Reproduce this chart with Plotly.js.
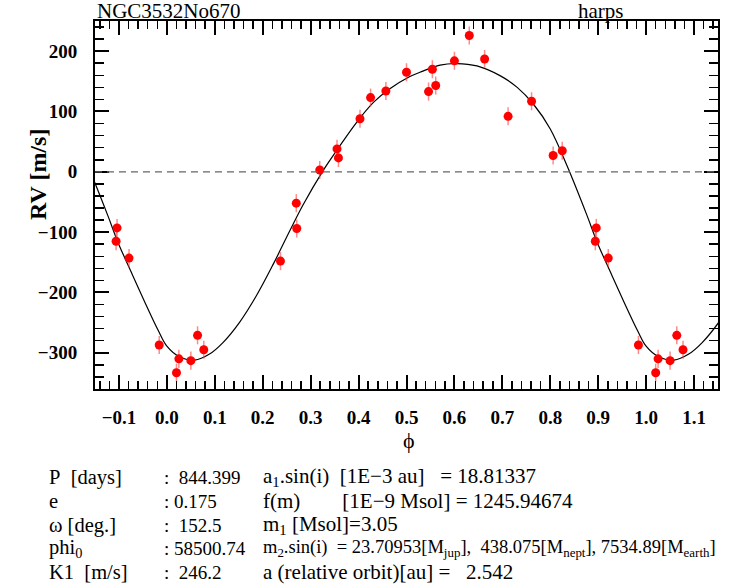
<!DOCTYPE html>
<html>
<head>
<meta charset="utf-8">
<script src="https://cdn.plot.ly/plotly-3.0.1.min.js"></script>
<style>
  html, body { margin: 0; padding: 0; background: #fff; }
  #rv-plot { width: 748px; height: 584px; }
</style>
</head>
<body>
<div id="rv-plot"></div>
<script>
// measured RV points, phase in [0,1)
var phase = [0.020, 0.025, 0.050, 0.064, 0.077, 0.237, 0.270, 0.271, 0.319, 0.355,
             0.358, 0.403, 0.425, 0.457, 0.500, 0.546, 0.554, 0.561, 0.600, 0.631,
             0.663, 0.712, 0.761, 0.806, 0.825, 0.894, 0.896, 0.921, 0.984];
var rv = [-333, -310, -313, -271, -295, -148, -52, -94, 3, 38,
          23, 88, 123, 134, 165, 133, 170, 143, 184, 226,
          187, 92, 117, 27, 35, -115, -93, -143, -287];
var rvErr = [15, 15, 15, 15, 15, 15, 15, 15, 15, 15,
             15, 15, 15, 15, 15, 15, 15, 15, 15, 15,
             15, 15, 15, 15, 15, 15, 15, 15, 15];

// orbit fit
var fitPhase = [0.000, 0.025, 0.058, 0.089, 0.117, 0.152, 0.187, 0.222, 0.257, 0.284,
                0.326, 0.354, 0.396, 0.431, 0.466, 0.507, 0.528, 0.570, 0.605, 0.647,
                0.696, 0.731, 0.765, 0.800, 0.835, 0.877, 0.898, 0.926, 0.954, 0.982];
var fitRv = [-289, -306, -312, -302, -283, -249, -205, -153, -97, -55,
             2, 35, 82, 115, 138, 158, 165, 177, 179.5, 175.5,
             159, 140, 112, 71, 10, -73, -117, -167, -216, -263];

var xTicks = [-0.1, 0.0, 0.1, 0.2, 0.3, 0.4, 0.5, 0.6, 0.7, 0.8, 0.9, 1.0, 1.1];

var infoLabels = ["P  [days]", "e", "\u03c9 [deg.]", "phi<sub>0</sub>", "K1  [m/s]"];
var infoValues = [":  844.399", ": 0.175", ":  152.5", ": 58500.74", ":  246.2"];
var infoDerived = [
    "a<sub>1</sub>.sin(i)  [1E\u22123 au]   = 18.81337",
    "f(m)        [1E\u22129 Msol] = 1245.94674",
    "m<sub>1</sub> [Msol]=3.05",
    "m<sub>2</sub>.sin(i)  = 23.70953[M<sub>jup</sub>],  438.075[M<sub>nept</sub>], 7534.89[M<sub>earth</sub>]",
    "a (relative orbit)[au] =   2.542"
];

var xMin = -0.15, xMax = 1.15;

// fold: repeat points near the edges one period over
var px = [], py = [], pe = [];
phase.forEach(function(p, i) {
    [-1, 0, 1].forEach(function(k) {
        var x = p + k;
        if (x >= xMin && x <= xMax) {
            px.push(x); py.push(rv[i]); pe.push(rvErr[i]);
        }
    });
});
var fx = [], fy = [];
[-1, 0, 1].forEach(function(k) {
    fitPhase.forEach(function(p, i) {
        fx.push(p + k); fy.push(fitRv[i]);
    });
});

var serif = "Liberation Serif, Times New Roman, serif";
var L = 95, T = 21, W = 623, H = 368;
function paperX(x) { return (x - L) / W; }
function paperY(y) { return (T + H - y) / H; }
function nb(s) { return s.replace(/ /g, "\u00a0"); }

var fit = {
    x: fx, y: fy,
    type: "scatter", mode: "lines",
    line: { color: "black", width: 1.2, shape: "spline" },
    hoverinfo: "skip"
};
var points = {
    x: px, y: py,
    type: "scatter", mode: "markers",
    marker: { color: "#ff0000", size: 9 },
    error_y: { type: "data", array: pe, visible: true, color: "rgba(255,60,60,0.6)", thickness: 1.5, width: 0 }
};

var axisCommon = {
    showgrid: false, zeroline: false,
    showline: true, linecolor: "black", linewidth: 2, mirror: "allticks",
    ticks: "inside", ticklen: 14, tickwidth: 2, tickcolor: "black",
    tickfont: { family: serif, size: 19, color: "black", weight: "bold" }
};

var xaxis = Object.assign({}, axisCommon, {
    range: [xMin, xMax],
    tickmode: "array", tickvals: xTicks,
    ticktext: xTicks.map(function(v) { return v.toFixed(1).replace("-", "\u2212"); }),
    ticklabelstandoff: 10,
    minor: { ticks: "inside", ticklen: 8, tickwidth: 1.5, tickcolor: "black", dtick: 0.02, tick0: 0 }
});
var yaxis = Object.assign({}, axisCommon, {
    range: [-360, 250],
    dtick: 100, tick0: 0,
    ticklabelstandoff: 12,
    minor: { ticks: "inside", ticklen: 9, tickwidth: 1.5, tickcolor: "black", dtick: 20, tick0: 0 }
});

var annotations = [
    { text: "NGC3532No670", x: paperX(96), y: 1, yshift: -3, xanchor: "left", yanchor: "bottom", borderpad: 0,
      font: { family: serif, size: 21, color: "black" } },
    { text: "harps", x: paperX(625), y: 1, yshift: -3, xanchor: "right", yanchor: "bottom", borderpad: 0,
      font: { family: serif, size: 21, color: "black" } },
    { text: "RV [m/s]", x: paperX(38), y: paperY(175), textangle: -90, xanchor: "center", yanchor: "middle",
      font: { family: serif, size: 24, color: "black", weight: "bold" } },
    { text: "\u03d5", x: paperX(409), y: paperY(440), xanchor: "center", yanchor: "middle",
      font: { family: serif, size: 22, color: "black" } }
];
var rowY = [477, 501, 525, 548.5, 572];
rowY.forEach(function(y, i) {
    annotations.push({ text: nb(infoLabels[i]), x: paperX(47), y: paperY(y), xanchor: "left", yanchor: "middle",
        font: { family: serif, size: 20.5, color: "black" } });
    annotations.push({ text: nb(infoValues[i]), x: paperX(162), y: paperY(y), xanchor: "left", yanchor: "middle",
        font: { family: serif, size: 19, color: "black" } });
    annotations.push({ text: nb(infoDerived[i]), x: paperX(261), y: paperY(y), xanchor: "left", yanchor: "middle",
        font: { family: serif, size: i === 3 ? 18.5 : 21, color: "black" } });
});
annotations.forEach(function(a) { a.xref = "paper"; a.yref = "paper"; a.showarrow = false; });

var layout = {
    width: 748, height: 584,
    margin: { l: L, r: 748 - L - W, t: T, b: 584 - T - H },
    paper_bgcolor: "white", plot_bgcolor: "white",
    showlegend: false,
    xaxis: xaxis, yaxis: yaxis,
    shapes: [{
        type: "line", xref: "paper", yref: "y", x0: 0, x1: 1, y0: 0, y1: 0,
        line: { color: "#666", width: 1.2, dash: "7px,5px" }
    }],
    annotations: annotations
};

Plotly.newPlot("rv-plot", [fit, points], layout, { staticPlot: true });
</script>
</body>
</html>
